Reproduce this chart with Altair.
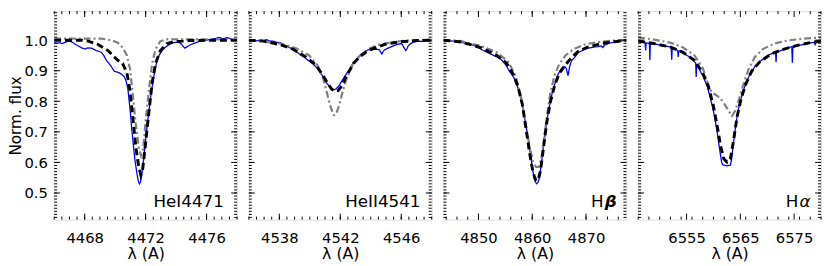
import altair as alt
import pandas as pd

# ---------------- data ----------------
# Panel 1: HeI 4471
obs1_w = [4466.00, 4466.20, 4466.35, 4466.52, 4466.70, 4466.90, 4467.05, 4467.20, 4467.40, 4467.59,
          4467.80, 4468.02, 4468.20, 4468.45, 4468.60, 4468.77, 4468.95, 4469.10, 4469.25, 4469.42,
          4469.58, 4469.74, 4469.85, 4469.96, 4470.10, 4470.28, 4470.40, 4470.49, 4470.60, 4470.71,
          4470.80, 4470.86, 4470.92, 4470.99, 4471.06, 4471.14, 4471.22, 4471.29, 4471.38, 4471.46,
          4471.53, 4471.59, 4471.65, 4471.72, 4471.80, 4471.89, 4472.00, 4472.11, 4472.22, 4472.32,
          4472.43, 4472.54, 4472.65, 4472.75, 4472.90, 4473.08, 4473.25, 4473.40, 4473.60, 4473.83,
          4474.00, 4474.15, 4474.28, 4474.37, 4474.48, 4474.58, 4474.70, 4474.80, 4474.95, 4475.12,
          4475.35, 4475.55, 4475.75, 4475.98, 4476.20, 4476.41, 4476.60, 4476.84, 4477.00, 4477.16,
          4477.30, 4477.48, 4477.65, 4477.81, 4478.00]
obs1_f = [0.993, 0.990, 0.992, 0.989, 0.993, 0.996, 0.997, 0.993, 0.986, 0.981,
          0.975, 0.971, 0.975, 0.974, 0.970, 0.966, 0.963, 0.960, 0.950, 0.934,
          0.925, 0.914, 0.905, 0.898, 0.896, 0.893, 0.889, 0.885, 0.880, 0.867,
          0.850, 0.830, 0.800, 0.768, 0.725, 0.684, 0.645, 0.611, 0.580, 0.554,
          0.537, 0.530, 0.535, 0.549, 0.580, 0.622, 0.675, 0.726, 0.770, 0.810,
          0.848, 0.882, 0.910, 0.934, 0.952, 0.966, 0.975, 0.981, 0.987, 0.992,
          0.993, 0.994, 0.990, 0.986, 0.979, 0.974, 0.978, 0.981, 0.985, 0.989,
          0.993, 0.997, 0.998, 1.000, 1.002, 1.004, 1.006, 1.009, 1.006, 1.005,
          1.008, 1.007, 1.003, 1.000, 0.999]
mod1_w = [4466.00, 4467.81, 4468.24, 4468.88, 4469.53, 4470.17, 4470.49, 4470.77, 4470.95, 4471.14,
          4471.35, 4471.53, 4471.68, 4471.81, 4472.00, 4472.22, 4472.43, 4472.65, 4472.97, 4473.40,
          4473.83, 4474.47, 4474.90, 4478.00]
mod1_f = [1.000, 1.000, 0.997, 0.986, 0.966, 0.934, 0.924, 0.893, 0.841, 0.757,
          0.653, 0.591, 0.559, 0.580, 0.664, 0.768, 0.861, 0.924, 0.966, 0.989,
          0.995, 0.997, 0.999, 1.000]
gry1_w = [4466.00, 4469.10, 4469.74, 4470.17, 4470.49, 4470.77, 4470.99, 4471.14, 4471.35, 4471.57,
          4471.70, 4471.83, 4472.00, 4472.22, 4472.43, 4472.65, 4472.97, 4473.40, 4478.00]
gry1_f = [1.005, 1.005, 1.000, 0.992, 0.976, 0.950, 0.903, 0.830, 0.726, 0.643,
          0.622, 0.643, 0.736, 0.841, 0.924, 0.971, 0.997, 1.003, 1.002]

# Panel 2: HeII 4541
obs2_w = [4536.00, 4536.15, 4536.30, 4536.50, 4536.73, 4536.95, 4537.16, 4537.35, 4537.59, 4537.80,
          4538.02, 4538.25, 4538.45, 4538.65, 4538.88, 4539.10, 4539.31, 4539.50, 4539.74, 4539.95,
          4540.17, 4540.35, 4540.49, 4540.65, 4540.77, 4540.90, 4541.03, 4541.15, 4541.29, 4541.40,
          4541.51, 4541.62, 4541.72, 4541.83, 4541.94, 4542.05, 4542.15, 4542.26, 4542.37, 4542.47,
          4542.58, 4542.70, 4542.80, 4542.95, 4543.08, 4543.25, 4543.40, 4543.60, 4543.83, 4544.05,
          4544.26, 4544.45, 4544.58, 4544.66, 4544.73, 4544.80, 4544.90, 4545.10, 4545.33, 4545.55,
          4545.76, 4545.98, 4546.08, 4546.15, 4546.30, 4546.38, 4546.45, 4546.60, 4546.73, 4546.95,
          4547.16, 4547.40, 4547.59, 4547.80, 4548.00]
obs2_f = [0.997, 0.998, 1.000, 0.998, 1.000, 0.999, 1.002, 0.998, 0.997, 0.994,
          0.992, 0.987, 0.981, 0.976, 0.971, 0.964, 0.955, 0.948, 0.940, 0.932,
          0.924, 0.915, 0.908, 0.898, 0.888, 0.878, 0.867, 0.857, 0.848, 0.842,
          0.838, 0.838, 0.841, 0.846, 0.853, 0.862, 0.870, 0.879, 0.888, 0.895,
          0.903, 0.913, 0.922, 0.929, 0.936, 0.946, 0.955, 0.962, 0.968, 0.970,
          0.971, 0.970, 0.968, 0.960, 0.955, 0.962, 0.968, 0.973, 0.978, 0.983,
          0.986, 0.989, 0.985, 0.978, 0.966, 0.972, 0.981, 0.988, 0.992, 0.995,
          0.997, 0.996, 0.997, 0.998, 0.997]
mod2_w = [4536.00, 4536.95, 4538.02, 4538.88, 4539.74, 4540.39, 4540.82, 4541.14, 4541.42, 4541.63,
          4541.85, 4542.11, 4542.32, 4542.58, 4542.86, 4543.29, 4543.83, 4544.47, 4545.12, 4545.98,
          4547.05, 4548.00]
mod2_f = [1.000, 0.997, 0.986, 0.971, 0.945, 0.919, 0.888, 0.861, 0.841, 0.832,
          0.835, 0.851, 0.874, 0.898, 0.924, 0.947, 0.966, 0.978, 0.989, 0.995,
          0.999, 1.000]
gry2_w = [4536.00, 4538.02, 4539.10, 4539.96, 4540.49, 4540.86, 4541.14, 4541.35, 4541.57, 4541.72,
          4541.94, 4542.15, 4542.43, 4542.75, 4543.18, 4543.83, 4544.47, 4545.33, 4546.19, 4547.05,
          4548.00]
gry2_f = [1.000, 0.989, 0.974, 0.950, 0.919, 0.877, 0.825, 0.783, 0.755, 0.757,
          0.789, 0.830, 0.877, 0.914, 0.945, 0.971, 0.984, 0.993, 0.998, 1.000,
          1.002]

# Panel 3: H beta
obs3_w = [4843.50, 4844.50, 4845.56, 4846.80, 4847.98, 4849.20, 4850.41, 4851.30, 4852.23, 4853.10,
          4854.05, 4854.70, 4855.26, 4855.70, 4856.17, 4856.55, 4856.95, 4857.25, 4857.56, 4857.85,
          4858.17, 4858.47, 4858.77, 4859.08, 4859.38, 4859.62, 4859.86, 4860.10, 4860.35, 4860.60,
          4860.83, 4861.08, 4861.32, 4861.56, 4861.80, 4862.10, 4862.41, 4862.71, 4863.02, 4863.38,
          4863.74, 4864.10, 4864.47, 4864.85, 4865.26, 4865.55, 4865.86, 4866.10, 4866.29, 4866.50,
          4866.65, 4866.80, 4866.95, 4867.15, 4867.38, 4868.00, 4868.59, 4869.50, 4870.41, 4871.00,
          4871.62, 4872.20, 4872.83, 4873.14, 4873.44, 4874.30, 4875.26, 4876.40, 4877.50]
obs3_f = [0.999, 0.998, 0.997, 0.993, 0.989, 0.983, 0.971, 0.963, 0.955, 0.948,
          0.940, 0.928, 0.914, 0.900, 0.888, 0.878, 0.867, 0.850, 0.830, 0.810,
          0.789, 0.758, 0.726, 0.695, 0.664, 0.632, 0.601, 0.573, 0.549, 0.535,
          0.530, 0.535, 0.549, 0.578, 0.611, 0.654, 0.695, 0.733, 0.768, 0.800,
          0.830, 0.852, 0.872, 0.890, 0.903, 0.910, 0.914, 0.912, 0.909, 0.895,
          0.884, 0.898, 0.914, 0.925, 0.934, 0.946, 0.960, 0.968, 0.974, 0.976,
          0.978, 0.979, 0.981, 0.976, 0.984, 0.990, 0.994, 0.997, 1.000]
mod3_w = [4843.50, 4846.77, 4850.41, 4853.44, 4855.26, 4856.47, 4857.38, 4858.17, 4858.89, 4859.50,
          4860.11, 4860.59, 4861.08, 4861.56, 4862.05, 4862.65, 4863.38, 4864.23, 4865.08, 4866.17,
          4867.38, 4868.59, 4870.41, 4872.83, 4875.26, 4877.50]
mod3_f = [1.000, 0.994, 0.976, 0.950, 0.924, 0.888, 0.846, 0.789, 0.705, 0.632,
          0.570, 0.544, 0.541, 0.575, 0.643, 0.726, 0.799, 0.856, 0.893, 0.919,
          0.945, 0.964, 0.978, 0.989, 0.995, 1.000]
gry3_w = [4843.50, 4846.77, 4850.41, 4853.44, 4855.56, 4856.95, 4857.98, 4858.77, 4859.50, 4860.11,
          4860.71, 4861.20, 4861.68, 4862.17, 4862.77, 4863.38, 4864.11, 4864.95, 4866.17, 4867.68,
          4869.80, 4872.23, 4875.26, 4877.50]
gry3_f = [1.000, 0.997, 0.981, 0.960, 0.929, 0.882, 0.809, 0.726, 0.653, 0.606,
          0.585, 0.585, 0.611, 0.674, 0.757, 0.830, 0.882, 0.919, 0.950, 0.971,
          0.986, 0.994, 0.999, 1.001]

# Panel 4: H alpha
obs4_w = [6546.00, 6546.40, 6546.80, 6547.30, 6547.39, 6547.48, 6547.80, 6548.10, 6548.18, 6548.26,
          6548.80, 6549.52, 6550.10, 6550.73, 6551.40, 6551.94, 6552.14, 6552.24, 6552.34, 6552.55,
          6553.00, 6553.35, 6553.45, 6553.55, 6553.76, 6554.20, 6554.67, 6555.10, 6555.58, 6556.00,
          6556.48, 6556.70, 6556.79, 6556.88, 6557.09, 6557.40, 6557.70, 6558.00, 6558.30, 6558.60,
          6558.91, 6559.20, 6559.52, 6559.82, 6560.12, 6560.42, 6560.73, 6561.00, 6561.15, 6561.35,
          6561.52, 6561.70, 6561.88, 6562.20, 6562.55, 6562.85, 6563.15, 6563.30, 6563.45, 6563.65,
          6563.88, 6564.10, 6564.36, 6564.65, 6564.97, 6565.35, 6565.76, 6566.20, 6566.61, 6567.10,
          6567.70, 6568.30, 6568.91, 6569.50, 6570.12, 6570.70, 6571.33, 6571.54, 6571.64, 6571.74,
          6571.94, 6572.50, 6573.15, 6573.80, 6574.36, 6574.57, 6574.67, 6574.77, 6574.97, 6575.60,
          6576.18, 6576.80, 6577.39, 6577.90, 6578.30, 6578.80, 6578.91, 6579.00, 6579.50, 6580.00]
obs4_f = [0.997, 0.995, 0.993, 0.992, 0.966, 0.991, 0.990, 0.989, 0.934, 0.988,
          0.988, 0.986, 0.984, 0.981, 0.980, 0.978, 0.976, 0.936, 0.975, 0.974,
          0.970, 0.966, 0.945, 0.965, 0.966, 0.960, 0.955, 0.950, 0.945, 0.938,
          0.929, 0.925, 0.880, 0.918, 0.913, 0.905, 0.893, 0.885, 0.872, 0.860,
          0.846, 0.825, 0.804, 0.782, 0.757, 0.727, 0.695, 0.660, 0.643, 0.620,
          0.601, 0.593, 0.591, 0.590, 0.589, 0.590, 0.591, 0.603, 0.622, 0.655,
          0.684, 0.715, 0.747, 0.775, 0.799, 0.822, 0.846, 0.865, 0.882, 0.896,
          0.914, 0.925, 0.934, 0.941, 0.950, 0.955, 0.960, 0.961, 0.929, 0.961,
          0.962, 0.966, 0.971, 0.975, 0.978, 0.978, 0.926, 0.978, 0.978, 0.982,
          0.984, 0.986, 0.989, 0.990, 0.992, 0.993, 0.983, 0.993, 0.995, 0.997]
mod4_w = [6546.00, 6548.91, 6551.94, 6554.36, 6556.48, 6558.00, 6559.09, 6559.94, 6560.73, 6561.33,
          6561.94, 6562.55, 6563.15, 6563.76, 6564.36, 6565.15, 6566.00, 6567.09, 6568.61, 6570.73,
          6573.15, 6575.58, 6578.00, 6580.00]
mod4_f = [0.997, 0.989, 0.978, 0.960, 0.934, 0.893, 0.846, 0.789, 0.716, 0.653,
          0.611, 0.601, 0.611, 0.674, 0.747, 0.809, 0.856, 0.898, 0.929, 0.955,
          0.971, 0.983, 0.992, 0.997]
gry4_w = [6546.00, 6548.91, 6551.94, 6554.36, 6556.48, 6558.00, 6558.91, 6559.70, 6560.55, 6561.33,
          6562.12, 6562.85, 6563.45, 6564.06, 6564.79, 6565.58, 6566.48, 6567.70, 6569.21, 6571.33,
          6573.76, 6576.79, 6580.00]
gry4_f = [1.009, 1.002, 0.992, 0.976, 0.950, 0.909, 0.861, 0.828, 0.820, 0.809,
          0.789, 0.768, 0.752, 0.770, 0.809, 0.856, 0.903, 0.945, 0.971, 0.989,
          0.999, 1.005, 1.009]

panel_labels = ["HeI4471", "HeII4541", "H", "H"]
panel_greek = ["", "", "\u03b2", "\u03b1"]
x_domains = [[4466, 4478], [4536, 4548], [4843.5, 4877.5], [6546, 6580]]
x_major = [[4468, 4472, 4476], [4538, 4542, 4546], [4850, 4860, 4870], [6555, 6565, 6575]]
x_minor_step = [0.5, 0.5, 2.0, 2.0]
y_domain = [0.413, 1.095]
y_major = [0.5, 0.6, 0.7, 0.8, 0.9, 1.0]

# ---------------- layout / style ----------------
W, H = 186, 212
FONT = "DejaVu Sans"
MAJ, MIN = 6, 3
label_x = [101, 98, 150, 150]

y_minor = [round(0.42 + 0.01 * k, 2) for k in range(68)]


def minor_ticks(dom, step):
    out = []
    v = dom[0] - (dom[0] % step)
    while v <= dom[1] + 1e-9:
        if v >= dom[0] - 1e-9:
            out.append(round(v, 3))
        v += step
    return out


def make_panel(i, obs, mod, gry):
    xs = alt.Scale(domain=x_domains[i], nice=False, zero=False)
    ys = alt.Scale(domain=y_domain, nice=False, zero=False)
    first = (i == 0)
    xaxis = alt.Axis(values=x_major[i], format="d", title="\u03bb (A)", ticks=False, domain=False,
                     grid=False, labelPadding=11, labelFontSize=15, titleFontSize=16,
                     titlePadding=1, labelFont=FONT, titleFont=FONT, labelColor="black",
                     titleColor="black", titleFontWeight="normal")
    if first:
        yaxis = alt.Axis(values=y_major, format=".1f", title="Norm. flux", ticks=False, domain=False,
                         grid=False, labelPadding=7, labelFontSize=15, titleFontSize=15.5,
                         titlePadding=0, labelFont=FONT, titleFont=FONT, labelColor="black",
                         titleColor="black", titleFontWeight="normal")
    else:
        yaxis = None

    X = lambda f: alt.X(f, scale=xs, axis=xaxis)
    Y = lambda f: alt.Y(f, scale=ys, axis=yaxis)

    def line_df(w, f):
        return pd.DataFrame({"w": w, "f": f})

    obs_l = alt.Chart(line_df(*obs)).mark_line(color="#0000ff", strokeWidth=1.3, clip=True).encode(
        x=X("w:Q"), y=Y("f:Q"))
    gry_l = alt.Chart(line_df(*gry)).mark_line(color="#7f7f7f", strokeWidth=2.2, strokeDash=[7, 3, 2, 3],
                                               clip=True).encode(x=X("w:Q"), y=Y("f:Q"))
    mod_l = alt.Chart(line_df(*mod)).mark_line(color="black", strokeWidth=3, strokeDash=[7, 4],
                                               clip=True).encode(x=X("w:Q"), y=Y("f:Q"))

    layers = [obs_l, gry_l, mod_l]

    xmaj = pd.DataFrame({"v": x_major[i]})
    xmin = pd.DataFrame({"v": minor_ticks(x_domains[i], x_minor_step[i])})
    ymaj = pd.DataFrame({"v": y_major})
    ymin = pd.DataFrame({"v": y_minor})
    for df, L in ((xmaj, MAJ), (xmin, MIN)):
        layers.append(alt.Chart(df).mark_rule(color="black", strokeWidth=1).encode(
            x=X("v:Q"), y=alt.value(H), y2=alt.value(H - L)))
        layers.append(alt.Chart(df).mark_rule(color="black", strokeWidth=1).encode(
            x=X("v:Q"), y=alt.value(0), y2=alt.value(L)))
    for df, L in ((ymaj, MAJ), (ymin, MIN)):
        layers.append(alt.Chart(df).mark_rule(color="black", strokeWidth=1).encode(
            y=Y("v:Q"), x=alt.value(0), x2=alt.value(L)))
        layers.append(alt.Chart(df).mark_rule(color="black", strokeWidth=1).encode(
            y=Y("v:Q"), x=alt.value(W), x2=alt.value(W - L)))

    lab = pd.DataFrame({"t": [panel_labels[i]]})
    layers.append(alt.Chart(lab).mark_text(align="left", baseline="alphabetic", font=FONT,
                                           fontSize=17, color="black").encode(
        x=alt.value(label_x[i]), y=alt.value(H - 13), text="t:N"))
    if panel_greek[i]:
        g = pd.DataFrame({"t": [panel_greek[i]]})
        bold = "bold" if i == 2 else "normal"
        layers.append(alt.Chart(g).mark_text(align="left", baseline="alphabetic", font=FONT,
                                             fontSize=17, fontStyle="italic", fontWeight=bold,
                                             color="black").encode(
            x=alt.value(label_x[i] + 14), y=alt.value(H - 13), text="t:N"))

    return alt.layer(*layers).properties(width=W, height=H)


panels = [
    make_panel(0, (obs1_w, obs1_f), (mod1_w, mod1_f), (gry1_w, gry1_f)),
    make_panel(1, (obs2_w, obs2_f), (mod2_w, mod2_f), (gry2_w, gry2_f)),
    make_panel(2, (obs3_w, obs3_f), (mod3_w, mod3_f), (gry3_w, gry3_f)),
    make_panel(3, (obs4_w, obs4_f), (mod4_w, mod4_f), (gry4_w, gry4_f)),
]

chart = alt.hconcat(*panels, spacing=10).properties(padding=0).configure_view(
    stroke="black", strokeWidth=2).configure(background="white")

chart.save("out.html", embed_options={"renderer": "svg", "actions": False})
